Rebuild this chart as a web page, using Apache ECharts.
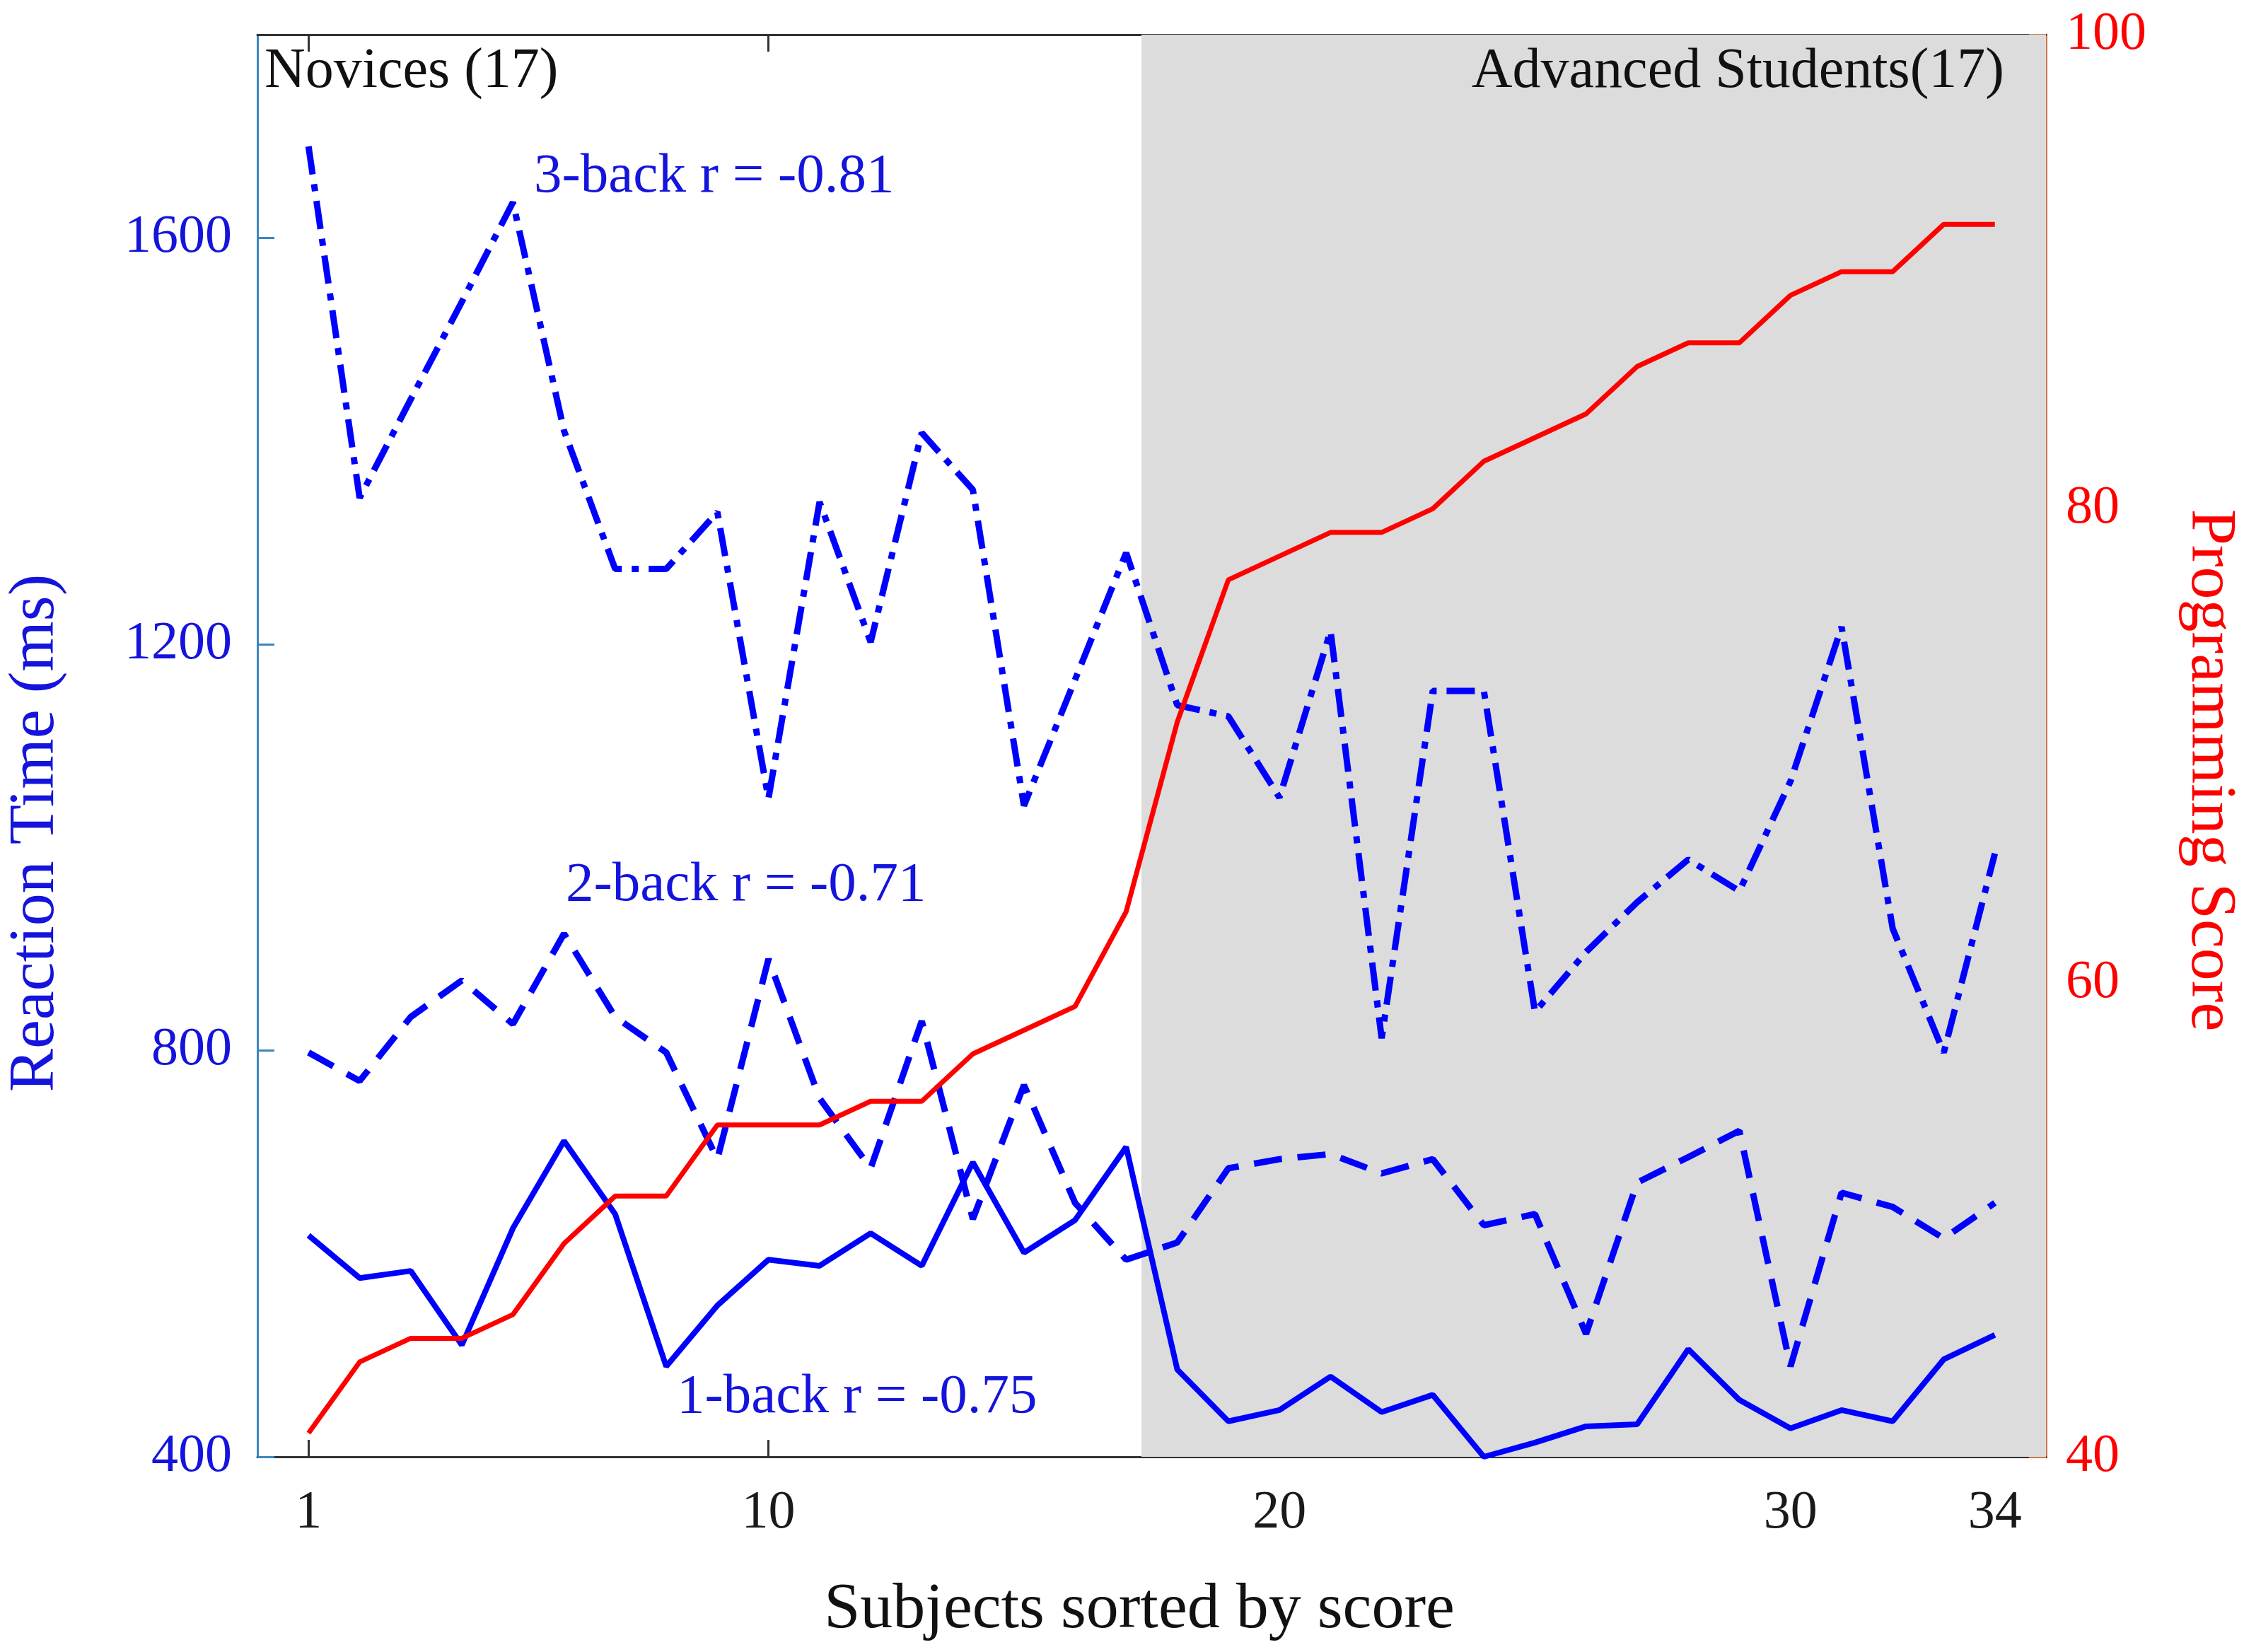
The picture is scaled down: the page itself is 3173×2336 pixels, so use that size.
<!DOCTYPE html>
<html>
<head>
<meta charset="utf-8">
<title>Reaction time vs programming score</title>
<script src="https://cdn.jsdelivr.net/npm/echarts@6/dist/echarts.min.js"></script>
<style>
    html, body { margin: 0; padding: 0; background: #fff; }
    #main { width: 3173px; height: 2336px; }
</style>
</head>
<body>
<div id="main"></div>
<script>
// subjects sorted by programming score
var subjects = [1, 2, 3, 4, 5, 6, 7, 8, 9, 10, 11, 12, 13, 14, 15, 16, 17,
    18, 19, 20, 21, 22, 23, 24, 25, 26, 27, 28, 29, 30, 31, 32, 33, 34]

// reaction time (ms)
var threeBack = [1690, 1344, 1441, 1537, 1635, 1410, 1274, 1274, 1330, 1048, 1340, 1202, 1408, 1352, 1041, 1165, 1290,
    1140, 1129, 1049, 1213, 812, 1154, 1154, 838, 897, 946, 988, 957, 1065, 1217, 920, 798, 994]
var twoBack = [798, 770, 833, 869, 826, 915, 833, 798, 693, 890, 753, 684, 829, 634, 766, 650, 594,
    611, 684, 693, 698, 679, 693, 628, 639, 521, 670, 695, 721, 489, 660, 646, 615, 650]
var oneBack = [618, 576, 583, 510, 625, 711, 639, 489, 549, 594, 588, 620, 588, 690, 601, 633, 705,
    486, 435, 446, 479, 444, 461, 400, 414, 430, 432, 506, 456, 428, 446, 435, 496, 520]

// programming score
var score = [41, 44, 45, 45, 46, 49, 51, 51, 54, 54, 54, 55, 55, 57, 58, 59, 63,
    71, 77, 78, 79, 79, 80, 82, 83, 84, 86, 87, 87, 89, 90, 90, 92, 92]

var xTicks = [1, 10, 20, 30, 34]
var rtTicks = [400, 800, 1200, 1600]
var groupSplit = 17.3

var font = 'Liberation Serif'
var blueText = '#1414dc'

function pairs(ys) {
    return subjects.map(function (x, i) {
        return [x, ys[i]]
    })
}

function plain(v) {
    return String(v)
}

function label(text, x, y, size, color, opts) {
    var style = {
        text: text,
        x: 0,
        y: 0,
        fontFamily: font,
        fontSize: size,
        fill: color,
        align: (opts && opts.align) || 'left',
        verticalAlign: 'middle'
    }
    return {
        type: 'text',
        x: x,
        y: y,
        rotation: (opts && opts.rotation) || 0,
        z: 100,
        style: style
    }
}

var myChart = echarts.init(document.getElementById('main'))

var option = {
    backgroundColor: '#fff',
    animation: false,
    grid: { left: 364, right: 280, top: 49, bottom: 276 },
    xAxis: [{
        type: 'value',
        min: 0,
        max: 35,
        axisLine: { onZero: false, lineStyle: { color: '#333', width: 3 } },
        axisTick: { inside: true, length: 24, customValues: xTicks, lineStyle: { color: '#333', width: 3 } },
        axisLabel: { customValues: xTicks, margin: 42, fontFamily: font, fontSize: 76, color: '#1a1a1a', formatter: plain },
        splitLine: { show: false }
    }, {
        type: 'value',
        position: 'top',
        min: 0,
        max: 35,
        axisLine: { onZero: false, lineStyle: { color: '#333', width: 3 } },
        axisTick: { inside: true, length: 24, customValues: xTicks, lineStyle: { color: '#333', width: 3 } },
        axisLabel: { show: false },
        splitLine: { show: false }
    }],
    yAxis: [{
        type: 'value',
        position: 'left',
        min: 400,
        max: 1800,
        interval: 400,
        axisLine: { show: true, onZero: false, lineStyle: { color: '#3d86bd', width: 3 } },
        axisTick: { inside: true, length: 24, customValues: rtTicks, lineStyle: { color: '#3d86bd', width: 3 } },
        axisLabel: { customValues: rtTicks, margin: 36, fontFamily: font, fontSize: 76, color: blueText, formatter: plain },
        splitLine: { show: false }
    }, {
        type: 'value',
        position: 'right',
        min: 40,
        max: 100,
        interval: 20,
        axisLine: { show: true, onZero: false, lineStyle: { color: '#d27645', width: 3 } },
        axisTick: { inside: true, length: 24, lineStyle: { color: '#d27645', width: 3 } },
        axisLabel: { margin: 28, fontFamily: font, fontSize: 76, color: '#ff0000', formatter: plain },
        splitLine: { show: false }
    }],
    series: [{
        // shaded block for the advanced group
        type: 'line',
        z: 1,
        data: [],
        silent: true,
        markArea: {
            silent: true,
            itemStyle: { color: '#dcdcdc' },
            data: [[{ xAxis: groupSplit }, { xAxis: 35 }]]
        }
    }, {
        name: '3-back',
        type: 'line',
        data: pairs(threeBack),
        showSymbol: false,
        lineStyle: { color: '#0000ff', width: 9, type: [40, 14, 10, 14] }
    }, {
        name: '2-back',
        type: 'line',
        data: pairs(twoBack),
        showSymbol: false,
        lineStyle: { color: '#0000ff', width: 9, type: [40, 22] }
    }, {
        name: '1-back',
        type: 'line',
        data: pairs(oneBack),
        showSymbol: false,
        lineStyle: { color: '#0000ff', width: 8 }
    }, {
        name: 'Score',
        type: 'line',
        yAxisIndex: 1,
        data: pairs(score),
        showSymbol: false,
        lineStyle: { color: '#ff0000', width: 7 }
    }],
    graphic: [
        label('Novices (17)', 374, 102, 80, '#111'),
        label('Advanced Students(17)', 2834, 102, 80, '#111', { align: 'right' }),
        label('3-back r = -0.81', 755, 250, 79, blueText),
        label('2-back r = -0.71', 800, 1252, 79, blueText),
        label('1-back r = -0.75', 957, 1976, 79, blueText),
        label('Subjects sorted by score', 1611, 2277, 92, '#111', { align: 'center' }),
        label('Reaction Time (ms)', 51, 1178, 92, blueText, { align: 'center', rotation: Math.PI / 2 }),
        label('Programming Score', 3124, 1089, 92, '#ff0000', { align: 'center', rotation: -Math.PI / 2 })
    ]
}

myChart.setOption(option)
</script>
</body>
</html>
